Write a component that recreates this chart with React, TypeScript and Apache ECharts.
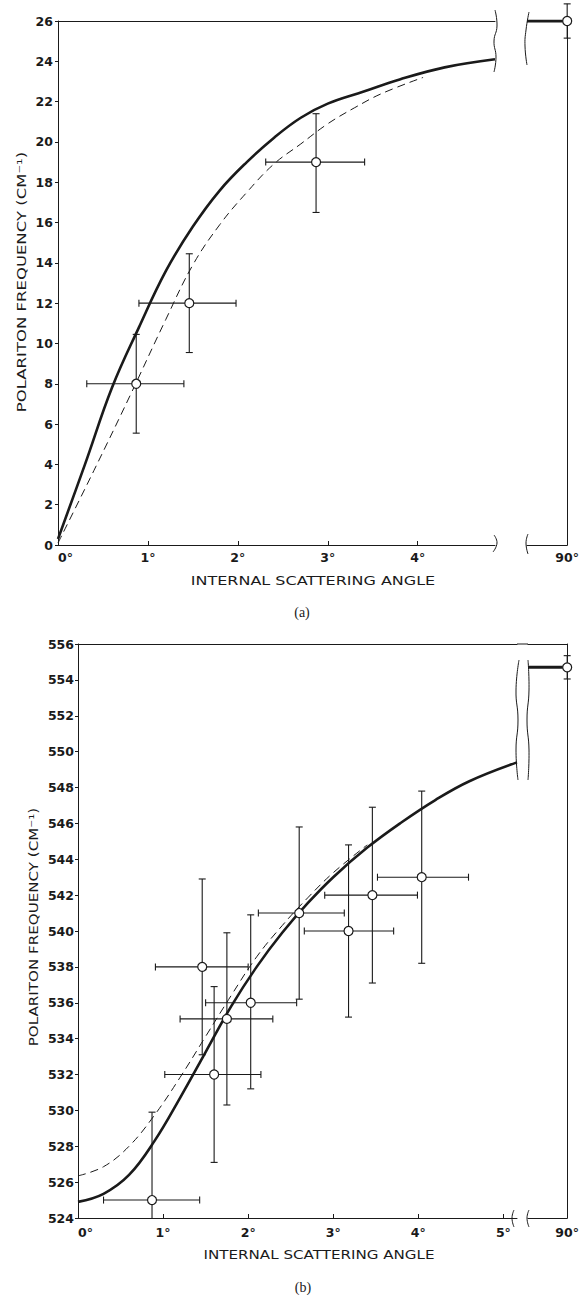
import React, { useEffect, useRef } from "react";
import * as echarts from "echarts";

// ---------- Panel (a) data ----------
const aSolidX = [0, 0.3, 0.6, 0.9, 1.2, 1.5, 1.8, 2.1, 2.4, 2.7, 3.0, 3.4, 3.8, 4.3, 4.86];
const aSolidY = [0.3, 4.0, 7.8, 10.8, 13.6, 15.8, 17.6, 19.0, 20.2, 21.2, 21.9, 22.5, 23.1, 23.7, 24.1];
const aDashX = [0, 0.4, 0.8, 1.2, 1.5, 1.8, 2.1, 2.4, 2.7, 3.0, 3.3, 3.6, 4.06];
const aDashY = [0.1, 3.7, 7.4, 11.2, 13.9, 15.9, 17.5, 18.9, 19.9, 20.9, 21.7, 22.4, 23.2];
const aPointX = [0.87, 1.46, 2.87];
const aPointY = [8, 12, 19];
const aPointXLow = [0.32, 0.9, 2.31];
const aPointXHigh = [1.4, 1.98, 3.41];
const aPointYLow = [5.55, 9.55, 16.5];
const aPointYHigh = [10.45, 14.45, 21.4];
const a90Y = 26;
const a90YLow = 25.15;
const a90YHigh = 26.85;
const aXLabels = [0, 1, 2, 3, 4];
const aXTickMarks = [1, 2, 3, 4];

// ---------- Panel (b) data ----------
const bSolidX = [0, 0.3, 0.6, 0.9, 1.2, 1.5, 1.8, 2.1, 2.4, 2.7, 3.0, 3.4, 3.8, 4.2, 4.6, 5.16];
const bSolidY = [524.9, 525.35, 526.4, 528.3, 530.7, 533.25, 535.8, 538.0, 539.9, 541.55, 543.0, 544.65, 546.05, 547.3, 548.35, 549.4];
const bDashX = [0, 0.3, 0.6, 0.9, 1.2, 1.5, 1.8, 2.1, 2.4, 2.7, 3.0, 3.4];
const bDashY = [526.35, 526.86, 528.0, 529.74, 531.84, 534.12, 536.4, 538.56, 540.3, 541.85, 543.25, 544.8];
const bPointX = [0.87, 1.46, 1.6, 1.75, 2.03, 2.6, 3.18, 3.46, 4.04];
const bPointY = [525, 538, 532, 535.1, 536, 541, 540, 542, 543];
const bPointXLow = [0.3, 0.91, 1.02, 1.2, 1.5, 2.12, 2.66, 2.9, 3.52];
const bPointXHigh = [1.43, 2.0, 2.15, 2.29, 2.57, 3.13, 3.71, 3.99, 4.59];
const bPointYLow = [520.1, 533.1, 527.1, 530.3, 531.2, 536.2, 535.2, 537.1, 538.2];
const bPointYHigh = [529.9, 542.9, 536.9, 539.9, 540.9, 545.8, 544.8, 546.9, 547.8];
const b90Y = 554.7;
const b90YLow = 554.05;
const b90YHigh = 555.35;
const bXLabels = [0, 1, 2, 3, 4, 5];
const bXTickMarks = [1, 2, 3, 4, 5];

const farX = 90;
const breakStart = 89.5;

const INK = "#1a1a1a";
const tickFont = { fontFamily: "DejaVu Sans", fontWeight: "bold", fontSize: 12.5, color: INK };
const titleFont = "12.5px 'DejaVu Sans'";

const zip = (xs: number[], ys: number[]) => xs.map((x, i) => [x, ys[i]]);
const errRows = (xs: number[], ys: number[], xl: number[], xh: number[], yl: number[], yh: number[]) =>
  xs.map((x, i) => [x, ys[i], xl[i], xh[i], yl[i], yh[i]]);

const errRender = (params: any, api: any) => {
  const x = api.value(0), y = api.value(1), xl = api.value(2), xh = api.value(3), yl = api.value(4), yh = api.value(5);
  const cs = params.coordSys;
  const c = api.coord([x, y]);
  const cap = 3.5;
  const style = { stroke: INK, lineWidth: 1.1, fill: null };
  const children: any[] = [];
  const ln = (x1: number, y1: number, x2: number, y2: number) =>
    children.push({ type: "line", shape: { x1, y1, x2, y2 }, style });
  if (xh > xl) {
    const a = api.coord([xl, y])[0];
    const b = api.coord([xh, y])[0];
    ln(a, c[1], b, c[1]);
    ln(a, c[1] - cap, a, c[1] + cap);
    ln(b, c[1] - cap, b, c[1] + cap);
  }
  const top = api.coord([x, yh])[1];
  let bot = api.coord([x, yl])[1];
  let botCap = true;
  const edge = cs.y + cs.height;
  if (bot > edge) {
    bot = edge;
    botCap = false;
  }
  ln(c[0], top, c[0], bot);
  ln(c[0] - cap, top, c[0] + cap, top);
  if (botCap) ln(c[0] - cap, bot, c[0] + cap, bot);
  return { type: "group", children };
};

const degFmt = (v: number) => (Math.abs(v - Math.round(v)) < 1e-9 ? `${Math.round(v)}°` : "");

const mainX = (grid: number, max: number, labels: number[], ticks: number[], margin: number) => ({
  type: "value",
  gridIndex: grid,
  min: 0,
  max,
  position: "bottom",
  axisLine: { show: true, onZero: false, lineStyle: { color: INK, width: 1 } },
  axisTick: { show: true, inside: true, length: 4, customValues: ticks, lineStyle: { color: INK, width: 1 } },
  axisLabel: { show: true, customValues: labels, formatter: degFmt, margin, alignMinLabel: "left", ...tickFont },
  splitLine: { show: false },
});

const topX = (grid: number, min: number, max: number) => ({
  type: "value",
  gridIndex: grid,
  min,
  max,
  position: "top",
  axisLine: { show: true, onZero: false, lineStyle: { color: INK, width: 1 } },
  axisTick: { show: false },
  axisLabel: { show: false },
  splitLine: { show: false },
});

const rightX = (grid: number, margin: number) => ({
  type: "value",
  gridIndex: grid,
  min: breakStart,
  max: farX,
  position: "bottom",
  axisLine: { show: true, onZero: false, lineStyle: { color: INK, width: 1 } },
  axisTick: { show: false },
  axisLabel: {
    show: true,
    customValues: [farX],
    formatter: (v: number) => (v === farX ? "90°" : ""),
    margin,
    ...tickFont,
  },
  splitLine: { show: false },
});

const mainY = (grid: number, min: number, max: number, margin: number) => ({
  type: "value",
  gridIndex: grid,
  min,
  max,
  interval: 2,
  position: "left",
  axisLine: { show: true, onZero: false, lineStyle: { color: INK, width: 1 } },
  axisTick: { show: true, inside: false, length: 3, lineStyle: { color: INK, width: 1 } },
  axisLabel: { show: true, margin, ...tickFont },
  splitLine: { show: false },
});

const rightY = (grid: number, min: number, max: number) => ({
  type: "value",
  gridIndex: grid,
  min,
  max,
  interval: 2,
  position: "right",
  axisLine: { show: true, onZero: false, lineStyle: { color: INK, width: 1 } },
  axisTick: { show: false },
  axisLabel: { show: false },
  splitLine: { show: false },
});

const solid = (xi: number, yi: number, data: number[][], width = 2.6, smooth: number | boolean = 0.4) => ({
  type: "line",
  xAxisIndex: xi,
  yAxisIndex: yi,
  data,
  smooth,
  showSymbol: false,
  symbol: "none",
  lineStyle: { color: INK, width },
  z: 2,
  silent: true,
});

const dashed = (xi: number, yi: number, data: number[][]) => ({
  type: "line",
  xAxisIndex: xi,
  yAxisIndex: yi,
  data,
  smooth: 0.4,
  showSymbol: false,
  symbol: "none",
  lineStyle: { color: INK, width: 1, type: [8, 5] },
  z: 2,
  silent: true,
});

const errSeries = (xi: number, yi: number, data: number[][]) => ({
  type: "custom",
  xAxisIndex: xi,
  yAxisIndex: yi,
  data,
  renderItem: errRender,
  encode: { x: 0, y: 1 },
  z: 3,
  silent: true,
});

const pts = (xi: number, yi: number, data: number[][]) => ({
  type: "scatter",
  xAxisIndex: xi,
  yAxisIndex: yi,
  data,
  symbol: "circle",
  symbolSize: 9,
  itemStyle: { color: "#fff", borderColor: INK, borderWidth: 1.2, opacity: 1 },
  z: 5,
  silent: true,
});

const wavy = (points: number[][]) => ({
  type: "polyline",
  shape: { points, smooth: 0.5 },
  style: { stroke: INK, lineWidth: 1, fill: null },
  silent: true,
});

const option: any = {
  animation: false,
  backgroundColor: "#fff",
  grid: [
    { left: 58, top: 21, width: 437, height: 524 },
    { left: 527, top: 21, width: 46, height: 524 },
    { left: 78, top: 644, width: 439, height: 574 },
    { left: 528, top: 644, width: 40, height: 574 },
  ],
  xAxis: [
    mainX(0, 4.86, aXLabels, aXTickMarks, 6),
    rightX(1, 6),
    mainX(2, 5.16, bXLabels, bXTickMarks, 8),
    rightX(3, 8),
    topX(0, 0, 4.86),
    topX(2, 0, 5.16),
    topX(3, breakStart, farX),
  ],
  yAxis: [mainY(0, 0, 26, 5), rightY(1, 0, 26), mainY(2, 524, 556, 4), rightY(3, 524, 556)],
  series: [
    solid(0, 0, zip(aSolidX, aSolidY)),
    dashed(0, 0, zip(aDashX, aDashY)),
    errSeries(0, 0, errRows(aPointX, aPointY, aPointXLow, aPointXHigh, aPointYLow, aPointYHigh)),
    pts(0, 0, zip(aPointX, aPointY)),
    solid(1, 1, [[breakStart, a90Y], [farX, a90Y]], 3, false),
    errSeries(1, 1, [[farX, a90Y, farX, farX, a90YLow, a90YHigh]]),
    pts(1, 1, [[farX, a90Y]]),

    solid(2, 2, zip(bSolidX, bSolidY)),
    dashed(2, 2, zip(bDashX, bDashY)),
    errSeries(2, 2, errRows(bPointX, bPointY, bPointXLow, bPointXHigh, bPointYLow, bPointYHigh)),
    pts(2, 2, zip(bPointX, bPointY)),
    solid(3, 3, [[breakStart, b90Y], [farX, b90Y]], 3, false),
    errSeries(3, 3, [[farX, b90Y, farX, farX, b90YLow, b90YHigh]]),
    pts(3, 3, [[farX, b90Y]]),
  ],
  graphic: {
    elements: [
      // axis break marks (a)
      wavy([[495, 10], [497, 26], [494, 41], [496, 57], [494, 72]]),
      wavy([[529, 12], [526, 30], [525, 46], [527, 65]]),
      wavy([[494, 535], [497, 543], [493, 552]]),
      wavy([[528, 534], [526, 543], [528, 554]]),
      // axis break marks (b)
      wavy([[519, 660], [516, 690], [518, 720], [516, 750], [518, 780]]),
      wavy([[528, 660], [529, 690], [527, 720], [529, 750], [528, 780]]),
      wavy([[514, 1210], [512, 1218], [514, 1227]]),
      wavy([[529, 1210], [527, 1218], [529, 1227]]),
      {
        type: "line",
        shape: { x1: 517, y1: 644, x2: 528, y2: 644 },
        style: { stroke: INK, lineWidth: 1 },
        silent: true,
      },
      // titles
      {
        type: "text",
        x: 21.5,
        y: 282,
        rotation: Math.PI / 2,
        scaleX: 1.32,
        style: { text: "POLARITON FREQUENCY (CM⁻¹)", font: titleFont, fill: INK, align: "center", verticalAlign: "middle" },
        silent: true,
      },
      {
        type: "text",
        x: 313,
        y: 581,
        scaleX: 1.28,
        style: { text: "INTERNAL SCATTERING ANGLE", font: titleFont, fill: INK, align: "center", verticalAlign: "middle" },
        silent: true,
      },
      {
        type: "text",
        x: 302,
        y: 612,
        style: { text: "(a)", font: "14px 'Liberation Serif'", fill: INK, align: "center", verticalAlign: "middle" },
        silent: true,
      },
      {
        type: "text",
        x: 33,
        y: 927,
        rotation: Math.PI / 2,
        scaleX: 1.21,
        style: { text: "POLARITON FREQUENCY (CM⁻¹)", font: titleFont, fill: INK, align: "center", verticalAlign: "middle" },
        silent: true,
      },
      {
        type: "text",
        x: 319,
        y: 1254,
        scaleX: 1.21,
        style: { text: "INTERNAL SCATTERING ANGLE", font: titleFont, fill: INK, align: "center", verticalAlign: "middle" },
        silent: true,
      },
      {
        type: "text",
        x: 303,
        y: 1287,
        style: { text: "(b)", font: "14px 'Liberation Serif'", fill: INK, align: "center", verticalAlign: "middle" },
        silent: true,
      },
    ],
  },
};

export default function App() {
  const ref = useRef<HTMLDivElement>(null);
  useEffect(() => {
    const chart = echarts.init(ref.current!, null, { renderer: "svg" });
    chart.setOption(option);
    return () => chart.dispose();
  }, []);
  return (
    <div
      ref={ref}
      style={{ position: "absolute", left: 0, top: 0, width: 582, height: 1295, background: "#fff" }}
    />
  );
}
